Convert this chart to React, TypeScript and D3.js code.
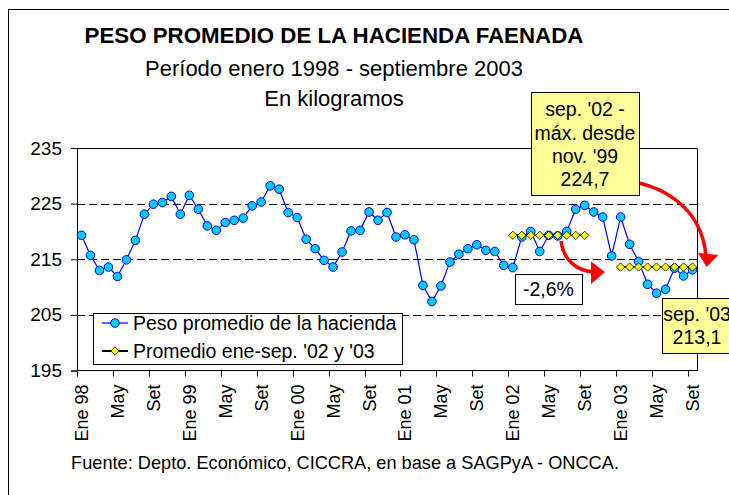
import React, { useRef, useEffect } from 'react';
import * as d3 from 'd3';

const W = 729;
const H = 495;

// categories: Jan 1998 .. Sep 2003
const years = ['98', '99', '00', '01', '02', '03'];
const monthNames = ['Ene', 'Feb', 'Mar', 'Abr', 'May', 'Jun', 'Jul', 'Ago', 'Set', 'Oct', 'Nov', 'Dic'];
const categories: string[] = years.flatMap((y) => monthNames.map((m) => `${m} ${y}`)).slice(0, 69);

const tickCategories = categories.filter((_, i) => i % 4 === 0);
const tickLabel = (c: string) => (c.startsWith('Ene') ? c : c.split(' ')[0]);

const peso = [
    219.3, 215.7, 213.0, 213.6, 211.9, 214.9, 218.4, 223.1, 224.9, 225.2, 226.3, 223.1,
    226.5, 224.0, 221.0, 220.2, 221.6, 222.0, 222.4, 224.6, 225.3, 228.2, 227.6, 223.4,
    222.5, 218.6, 216.9, 214.8, 213.6, 216.3, 220.1, 220.2, 223.5, 222.0, 223.4, 219.0,
    219.4, 218.5, 210.3, 207.4, 210.2, 214.5, 215.9, 216.9, 217.6, 216.6, 216.4, 213.9,
    213.5, 219.0, 220.0, 216.4, 219.3, 219.2, 220.0, 224.0, 224.7, 223.5, 222.6, 215.6,
    222.6, 217.7, 214.6, 210.5, 208.9, 209.6, 213.4, 212.0, 213.1,
];

const promedio02Cats = ['Ene 02', 'Feb 02', 'Mar 02', 'Abr 02', 'May 02', 'Jun 02', 'Jul 02', 'Ago 02', 'Set 02'];
const promedio02 = [219.3, 219.3, 219.3, 219.3, 219.3, 219.3, 219.3, 219.3, 219.3];
const promedio03Cats = ['Ene 03', 'Feb 03', 'Mar 03', 'Abr 03', 'May 03', 'Jun 03', 'Jul 03', 'Ago 03', 'Set 03'];
const promedio03 = [213.6, 213.6, 213.6, 213.6, 213.6, 213.6, 213.6, 213.6, 213.6];

const yTicks = [195, 205, 215, 225, 235];
const gridValues = [205, 215, 225];

export default function App() {
    const svgRef = useRef<SVGSVGElement | null>(null);

    useEffect(() => {
        const svg = d3.select(svgRef.current);
        svg.selectAll('*').remove();

        const left = 77, right = 697, top = 148, bottom = 370.5;

        const x = d3.scaleBand<string>().domain(categories).range([left, right]).paddingInner(0).paddingOuter(0);
        const y = d3.scaleLinear().domain([195, 235]).range([bottom, top]);
        const cx = (c: string) => (x(c) as number) + x.bandwidth() / 2;

        svg.append('rect').attr('width', W).attr('height', H).attr('fill', '#fff');
        // outer chart frame
        svg.append('rect').attr('x', 8.5).attr('y', 9.5).attr('width', 760).attr('height', 520)
            .attr('fill', 'none').attr('stroke', '#000').attr('stroke-width', 1);

        // titles
        const titles = svg.append('g').attr('text-anchor', 'middle').attr('fill', '#000');
        titles.append('text').attr('x', 334).attr('y', 43).attr('font-size', 22.3).attr('font-weight', 700)
            .text('PESO PROMEDIO DE LA HACIENDA FAENADA');
        titles.append('text').attr('x', 334).attr('y', 76).attr('font-size', 22)
            .text('Período enero 1998 - septiembre 2003');
        titles.append('text').attr('x', 334).attr('y', 106).attr('font-size', 22)
            .text('En kilogramos');

        // grid lines
        svg.append('g').selectAll('line').data(gridValues).join('line')
            .attr('x1', left).attr('x2', right)
            .attr('y1', (d) => Math.round(y(d)) + 0.5).attr('y2', (d) => Math.round(y(d)) + 0.5)
            .attr('stroke', '#000').attr('stroke-dasharray', '8,4');

        // plot frame top/right
        svg.append('path')
            .attr('d', `M${left},${top + 0.5}H${right + 0.5}V${bottom}`)
            .attr('fill', 'none').attr('stroke', '#000');

        // y axis
        const yAxis = svg.append('g').attr('transform', `translate(${left},0)`)
            .call(d3.axisLeft(y).tickValues(yTicks).tickSize(6).tickPadding(9).tickFormat(d3.format('d')));
        yAxis.select('.domain').attr('stroke', '#000');
        yAxis.selectAll('text').attr('font-size', 19).attr('font-family', 'Liberation Sans, Arial, sans-serif').attr('fill', '#000');

        // x axis
        const xAxisG = svg.append('g').attr('transform', `translate(0,${bottom})`);
        xAxisG.append('line').attr('x1', left).attr('x2', right + 0.5).attr('stroke', '#000');
        xAxisG.selectAll('line.tick').data(tickCategories).join('line').attr('class', 'tick')
            .attr('x1', (d) => Math.round(x(d) as number) + 0.5).attr('x2', (d) => Math.round(x(d) as number) + 0.5)
            .attr('y1', 0).attr('y2', 6).attr('stroke', '#000');
        xAxisG.selectAll('text').data(tickCategories).join('text')
            .attr('transform', (d) => `translate(${cx(d) + 6.5},14) rotate(-90)`)
            .attr('text-anchor', 'end').attr('font-size', 18)
            .text((d) => tickLabel(d));

        // series: peso promedio
        const line = d3.line<number>().x((_, i) => cx(categories[i])).y((d) => y(d));
        svg.append('path').datum(peso).attr('d', line).attr('fill', 'none').attr('stroke', '#0000ff').attr('stroke-width', 1.2);
        svg.append('g').selectAll('circle').data(peso).join('circle')
            .attr('cx', (_, i) => cx(categories[i])).attr('cy', (d) => y(d)).attr('r', 4.3)
            .attr('fill', '#00ccff').attr('stroke', '#0000ff').attr('stroke-width', 1);

        // series: promedios ene-sep
        const diamond = d3.symbol().type(d3.symbolDiamond2).size(44);
        [[promedio02Cats, promedio02], [promedio03Cats, promedio03]].forEach(([cats, vals]) => {
            const c = cats as string[];
            const v = vals as number[];
            const pl = d3.line<number>().x((_, i) => cx(c[i])).y((d) => y(d));
            svg.append('path').datum(v).attr('d', pl).attr('fill', 'none').attr('stroke', '#000').attr('stroke-width', 1.5);
            svg.append('g').selectAll('path').data(v).join('path')
                .attr('transform', (d, i) => `translate(${cx(c[i])},${y(d)})`)
                .attr('d', diamond).attr('fill', '#ffff00').attr('stroke', '#000').attr('stroke-width', 0.8);
        });

        // legend
        const lg = svg.append('g');
        lg.append('rect').attr('x', 93.5).attr('y', 313.5).attr('width', 309).attr('height', 51)
            .attr('fill', '#fff').attr('stroke', '#000');
        const legendRows = [
            { label: 'Peso promedio de la hacienda', stroke: '#0000ff', kind: 'circle' },
            { label: "Promedio ene-sep. '02 y '03", stroke: '#000', kind: 'diamond' },
        ];
        legendRows.forEach((r, i) => {
            const yy = 323 + i * 28;
            lg.append('line').attr('x1', 102).attr('x2', 128).attr('y1', yy).attr('y2', yy)
                .attr('stroke', r.stroke).attr('stroke-width', r.kind === 'circle' ? 1.2 : 2);
            if (r.kind === 'circle') {
                lg.append('circle').attr('cx', 115).attr('cy', yy).attr('r', 4.3)
                    .attr('fill', '#00ccff').attr('stroke', '#0000ff');
            } else {
                lg.append('path').attr('transform', `translate(115,${yy})`).attr('d', diamond)
                    .attr('fill', '#ffff00').attr('stroke', '#000').attr('stroke-width', 0.8);
            }
            lg.append('text').attr('x', 133).attr('y', yy + 7).attr('font-size', 19.5).text(r.label);
        });

        // arrows
        const red = '#ff0000';
        svg.append('path').attr('d', 'M561,241 C563,259 576,271 594,272')
            .attr('fill', 'none').attr('stroke', red).attr('stroke-width', 3.5);
        svg.append('path').attr('d', 'M591,261.5 L605,272 L591,284 Z').attr('fill', red);
        svg.append('path').attr('d', 'M615,180 C665,182 702,210 706,256')
            .attr('fill', 'none').attr('stroke', red).attr('stroke-width', 3.5);
        svg.append('path').attr('d', 'M698,253 L706.7,267 L718.3,255 Z').attr('fill', red);

        // annotation boxes
        const box = (x0: number, y0: number, w: number, h: number, fill: string, lines: string[], baselines: number[]) => {
            const g = svg.append('g');
            g.append('rect').attr('x', x0 + 0.5).attr('y', y0 + 0.5).attr('width', w).attr('height', h)
                .attr('fill', fill).attr('stroke', '#000');
            lines.forEach((t, i) => {
                g.append('text').attr('x', x0 + w / 2).attr('y', baselines[i]).attr('text-anchor', 'middle')
                    .attr('font-size', 19.5).text(t);
            });
        };
        box(531, 92, 108, 103, '#ffff99', ["sep. '02 -", 'máx. desde', "nov. '99", '224,7'], [116, 139.5, 163, 186]);
        box(662, 298, 70, 55, '#ffff99', ["sep. '03", '213,1'], [320.5, 344]);
        box(515, 274, 67, 30, '#ffffff', ['-2,6%'], [296]);

        // source
        svg.append('text').attr('x', 345).attr('y', 469).attr('text-anchor', 'middle').attr('font-size', 18.2)
            .text('Fuente: Depto. Económico, CICCRA, en base a SAGPyA - ONCCA.');
    }, []);

    return (
        <svg
            ref={svgRef}
            width={W}
            height={H}
            style={{ position: 'absolute', left: 0, top: 0, fontFamily: 'Liberation Sans, Arial, sans-serif' }}
        />
    );
}
